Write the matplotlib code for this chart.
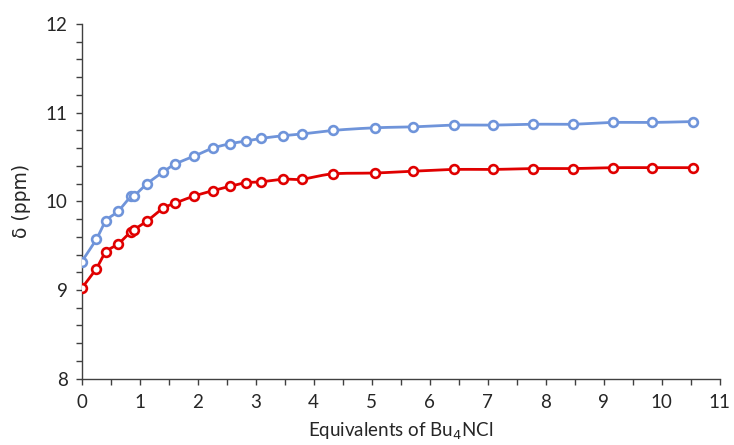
import numpy as np
import matplotlib
matplotlib.use("Agg")
import matplotlib.pyplot as plt
from matplotlib.ticker import MultipleLocator

plt.rcParams['font.family'] = ['Lato', 'DejaVu Sans']

# Titration data: equivalents of chloride added and observed shifts
equiv = [0.00, 0.25, 0.42, 0.63, 0.85, 0.90, 1.13, 1.40, 1.61, 1.94,
         2.26, 2.56, 2.83, 3.09, 3.47, 3.80, 4.33, 5.06, 5.71, 6.42,
         7.09, 7.78, 8.47, 9.16, 9.83, 10.54]
shift_a = [9.32, 9.57, 9.78, 9.89, 10.06, 10.06, 10.20, 10.33, 10.42, 10.51,
           10.60, 10.65, 10.68, 10.71, 10.74, 10.76, 10.80, 10.83, 10.84, 10.86,
           10.86, 10.87, 10.87, 10.89, 10.89, 10.90]
shift_b = [9.02, 9.24, 9.43, 9.52, 9.66, 9.68, 9.78, 9.92, 9.98, 10.06,
           10.12, 10.17, 10.21, 10.22, 10.25, 10.25, 10.31, 10.32, 10.34, 10.36,
           10.36, 10.37, 10.37, 10.38, 10.38, 10.38]

color_a = "#6F94DA"
color_b = "#E00000"


def smooth_curve(x, y, n=20, tension=0.5):
    """Cardinal-spline smoothing through the given points."""
    x = np.asarray(x, float)
    y = np.asarray(y, float)
    px = np.concatenate([[2 * x[0] - x[1]], x, [2 * x[-1] - x[-2]]])
    py = np.concatenate([[2 * y[0] - y[1]], y, [2 * y[-1] - y[-2]]])
    xs, ys = [], []
    t = np.linspace(0, 1, n, endpoint=False)
    for i in range(1, len(px) - 2):
        p0 = np.array([px[i - 1], py[i - 1]])
        p1 = np.array([px[i], py[i]])
        p2 = np.array([px[i + 1], py[i + 1]])
        p3 = np.array([px[i + 2], py[i + 2]])
        m1 = tension * (p2 - p0)
        m2 = tension * (p3 - p1)
        h00 = 2 * t**3 - 3 * t**2 + 1
        h10 = t**3 - 2 * t**2 + t
        h01 = -2 * t**3 + 3 * t**2
        h11 = t**3 - t**2
        seg = (np.outer(h00, p1) + np.outer(h10, m1) +
               np.outer(h01, p2) + np.outer(h11, m2))
        xs.append(seg[:, 0])
        ys.append(seg[:, 1])
    xs.append([x[-1]])
    ys.append([y[-1]])
    return np.concatenate(xs), np.concatenate(ys)


fig = plt.figure(figsize=(7.34, 4.45), dpi=100)
ax = fig.add_axes([0.1113, 0.149, 0.869, 0.797])

for yv, col in ((shift_a, color_a), (shift_b, color_b)):
    sx, sy = smooth_curve(equiv, yv)
    ax.plot(sx, sy, color=col, lw=2.0, zorder=2)
    ax.plot(equiv, yv, linestyle="none", marker="o", ms=6.3,
            mfc="white", mec=col, mew=1.9, zorder=3)

ax.set_xlim(0, 11)
ax.set_ylim(8, 12)
ax.xaxis.set_major_locator(MultipleLocator(1))
ax.xaxis.set_minor_locator(MultipleLocator(0.5))
ax.yaxis.set_major_locator(MultipleLocator(1))
ax.yaxis.set_minor_locator(MultipleLocator(0.2))

for s in ("top", "right"):
    ax.spines[s].set_visible(False)
for s in ("left", "bottom"):
    ax.spines[s].set_color("#404040")
    ax.spines[s].set_linewidth(1.0)

ax.tick_params(which="both", direction="out", length=4, width=1.0,
               color="#404040", labelsize=13.5, labelcolor="#262626")
ax.tick_params(axis="x", which="major", pad=7)
ax.tick_params(axis="y", which="major", pad=6)

ax.set_xlabel("Equivalents of Bu$_4$NCl", fontsize=13.5, color="#262626",
              labelpad=7)
ax.set_ylabel("δ (ppm)", fontsize=13.5, color="#262626", labelpad=11,
              family=["DejaVu Sans"])

fig.savefig("out.png", dpi=100)
